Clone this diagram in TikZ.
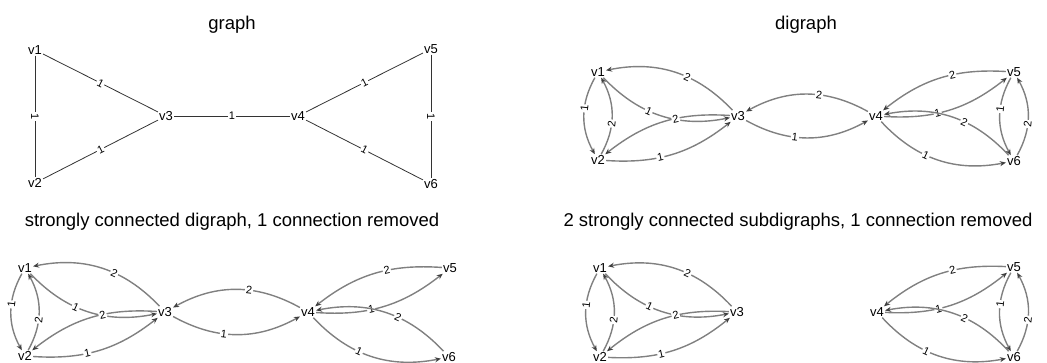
\documentclass[tikz,border=0pt]{standalone}
\usepackage{fontspec}
\setmainfont{Liberation Sans}
\usetikzlibrary{arrows.meta}

\begin{document}
\begin{tikzpicture}[x=1pt,y=-1pt,
  vtx/.style={inner sep=1pt, font=\fontsize{13}{14}\selectfont},
  lbl/.style={midway, sloped, fill=white, inner sep=1pt, font=\fontsize{11}{12}\selectfont},
  dlbl/.style={lbl, pos=0.4},
  uline/.style={draw=black!80, line width=0.8pt},
  darc/.style={draw=black!50, line width=1.4pt, bend right=29, -{Stealth[length=6pt,width=5pt,color=black!75]}},
  flat/.style={bend right=21},
  title/.style={font=\fontsize{18.5}{20}\selectfont}]
\useasboundingbox (0,0) rectangle (1047,363);

% titles
\node [title] (ttl1) at (232,25) {graph};
\node [title] (ttl2) at (806,25) {digraph};
\node [title] (ttl3) at (232,222) {strongly connected digraph, 1 connection removed};
\node [title] (ttl4) at (798,222) {2 strongly connected subdigraphs, 1 connection removed};

% graph
\node [vtx] (g1) at (35,50) {v1};
\node [vtx] (g2) at (35,183) {v2};
\node [vtx] (g3) at (166,116) {v3};
\node [vtx] (g4) at (298,116) {v4};
\node [vtx] (g5) at (431,49) {v5};
\node [vtx] (g6) at (431,184) {v6};
\draw [uline] (g1) -- node [lbl] {1} (g2);
\draw [uline] (g1) -- node [lbl] {1} (g3);
\draw [uline] (g2) -- node [lbl] {1} (g3);
\draw [uline] (g3) -- node [lbl] {1} (g4);
\draw [uline] (g4) -- node [lbl] {1} (g5);
\draw [uline] (g4) -- node [lbl] {1} (g6);
\draw [uline] (g5) -- node [lbl] {1} (g6);

% digraph
\node [vtx] (d1) at (598,72) {v1};
\node [vtx] (d2) at (598,160) {v2};
\node [vtx] (d3) at (738,116) {v3};
\node [vtx] (d4) at (876,116) {v4};
\node [vtx] (d5) at (1014,72) {v5};
\node [vtx] (d6) at (1014,161) {v6};
\draw [darc] (d1) to node [dlbl] {1} (d2);
\draw [darc] (d2) to node [dlbl] {2} (d1);
\draw [darc] (d1) to node [dlbl] {1} (d3);
\draw [darc] (d3) to node [dlbl] {2} (d1);
\draw [darc,flat] (d2) to node [dlbl] {1} (d3);
\draw [darc,flat] (d3) to node [dlbl] {2} (d2);
\draw [darc] (d3) to node [dlbl] {1} (d4);
\draw [darc] (d4) to node [dlbl] {2} (d3);
\draw [darc,flat] (d4) to node [dlbl] {1} (d5);
\draw [darc,flat] (d5) to node [dlbl] {2} (d4);
\draw [darc] (d4) to node [dlbl] {1} (d6);
\draw [darc] (d6) to node [dlbl] {2} (d4);
\draw [darc] (d5) to node [dlbl] {1} (d6);
\draw [darc] (d6) to node [dlbl] {2} (d5);

% strongly connected, v5-v6 removed
\node [vtx] (s1) at (25,268) {v1};
\node [vtx] (s2) at (25,356) {v2};
\node [vtx] (s3) at (165,312) {v3};
\node [vtx] (s4) at (308,312) {v4};
\node [vtx] (s5) at (450,268) {v5};
\node [vtx] (s6) at (449,357) {v6};
\draw [darc] (s1) to node [dlbl] {1} (s2);
\draw [darc] (s2) to node [dlbl] {2} (s1);
\draw [darc] (s1) to node [dlbl] {1} (s3);
\draw [darc] (s3) to node [dlbl] {2} (s1);
\draw [darc,flat] (s2) to node [dlbl] {1} (s3);
\draw [darc,flat] (s3) to node [dlbl] {2} (s2);
\draw [darc] (s3) to node [dlbl] {1} (s4);
\draw [darc] (s4) to node [dlbl] {2} (s3);
\draw [darc,flat] (s4) to node [dlbl] {1} (s5);
\draw [darc,flat] (s5) to node [dlbl] {2} (s4);
\draw [darc] (s4) to node [dlbl] {1} (s6);
\draw [darc] (s6) to node [dlbl] {2} (s4);

% two subdigraphs, v3-v4 removed
\node [vtx] (t1) at (600,268) {v1};
\node [vtx] (t2) at (600,357) {v2};
\node [vtx] (t3) at (737,312) {v3};
\node [vtx] (t4) at (877,312) {v4};
\node [vtx] (t5) at (1014,267) {v5};
\node [vtx] (t6) at (1014,357) {v6};
\draw [darc] (t1) to node [dlbl] {1} (t2);
\draw [darc] (t2) to node [dlbl] {2} (t1);
\draw [darc] (t1) to node [dlbl] {1} (t3);
\draw [darc] (t3) to node [dlbl] {2} (t1);
\draw [darc,flat] (t2) to node [dlbl] {1} (t3);
\draw [darc,flat] (t3) to node [dlbl] {2} (t2);
\draw [darc,flat] (t4) to node [dlbl] {1} (t5);
\draw [darc,flat] (t5) to node [dlbl] {2} (t4);
\draw [darc] (t4) to node [dlbl] {1} (t6);
\draw [darc] (t6) to node [dlbl] {2} (t4);
\draw [darc] (t5) to node [dlbl] {1} (t6);
\draw [darc] (t6) to node [dlbl] {2} (t5);
\end{tikzpicture}
\end{document}
